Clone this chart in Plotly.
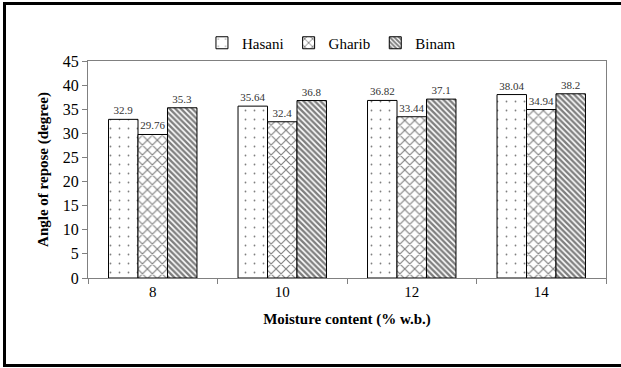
import plotly.graph_objects as go

categories = ["8", "10", "12", "14"]
hasani = [32.9, 35.64, 36.82, 38.04]
gharib = [29.76, 32.4, 33.44, 34.94]
binam = [35.3, 36.8, 37.1, 38.2]
hasani_labels = ["32.9", "35.64", "36.82", "38.04"]
gharib_labels = ["29.76", "32.4", "33.44", "34.94"]
binam_labels = ["35.3", "36.8", "37.1", "38.2"]

FONT = "Liberation Serif"

def bar(name, y, labels, shape, size, solidity):
    return go.Bar(
        name=name, x=categories, y=y, text=labels, textposition="outside",
        textfont=dict(family=FONT, size=11, color="#333"),
        cliponaxis=False,
        marker=dict(color="white", line=dict(color="black", width=1),
                    pattern=dict(shape=shape, size=size, solidity=solidity,
                                 fgcolor="black", bgcolor="white")),
    )

fig = go.Figure([
    bar("Hasani", hasani, hasani_labels, ".", 9, 0.03),
    bar("Gharib", gharib, gharib_labels, "x", 7, 0.3),
    bar("Binam", binam, binam_labels, "\\", 4, 0.6),
])

L, R, T, B = 88, 15, 61, 90
W, H = 621, 368
pw, ph = W - L - R, H - T - B

def px(x):
    return (x - L) / pw

def py(y):
    return (H - B - y) / ph

fig.update_layout(
    width=W, height=H, margin=dict(l=L, r=R, t=T, b=B),
    paper_bgcolor="white", plot_bgcolor="white",
    barmode="group", bargap=0.317, bargroupgap=0,
    font=dict(family=FONT, size=14, color="black"),
    legend=dict(orientation="h", x=0.47, xanchor="center", y=py(43), yanchor="middle",
                font=dict(family=FONT, size=15), itemwidth=30, traceorder="normal"),
    xaxis=dict(
        showline=True, linecolor="#808080", linewidth=1, mirror=True,
        ticks="outside", tickson="boundaries", ticklen=5, tickcolor="#808080",
        tickfont=dict(family=FONT, size=15),
        title=dict(text="<b>Moisture content (% w.b.)</b>", font=dict(family=FONT, size=15), standoff=14),
    ),
    yaxis=dict(
        range=[0, 45], dtick=5, showgrid=False, zeroline=False,
        showline=True, linecolor="#808080", linewidth=1, mirror=True,
        ticks="outside", ticklen=5, tickcolor="#808080",
        tickfont=dict(family=FONT, size=16),
        title=dict(text="<b>Angle of repose (degree)</b>", font=dict(family=FONT, size=15), standoff=10),
    ),
    shapes=[
        dict(type="line", xref="paper", yref="paper", x0=px(4.5), x1=px(4.5), y0=py(3), y1=py(366),
             line=dict(color="black", width=3)),
        dict(type="line", xref="paper", yref="paper", x0=px(3), x1=px(621), y0=py(3.5), y1=py(3.5),
             line=dict(color="black", width=3)),
        dict(type="line", xref="paper", yref="paper", x0=px(3), x1=px(621), y0=py(365.5), y1=py(365.5),
             line=dict(color="black", width=3)),
    ],
)

fig.write_html("out.html")
